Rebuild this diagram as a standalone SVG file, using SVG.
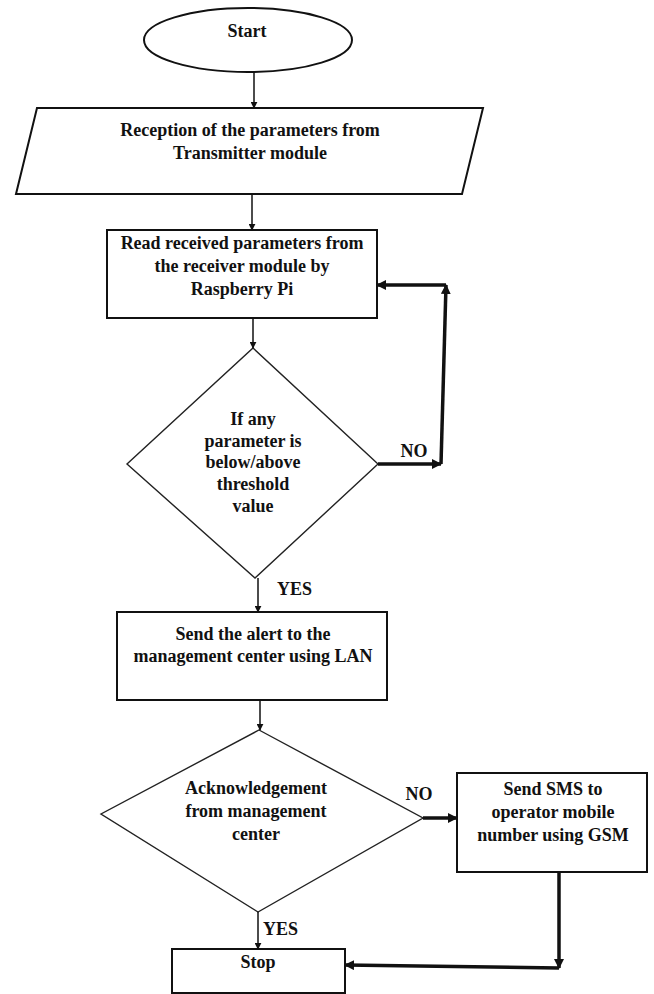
<svg xmlns="http://www.w3.org/2000/svg" width="654" height="994" viewBox="0 0 654 994">
<defs>
<style>
text{font-family:"Liberation Serif","Times New Roman",serif;font-weight:bold;font-size:18px;fill:#111;text-anchor:middle}
.lbl{text-anchor:start}
.shape{fill:#fff;stroke:#111;stroke-width:2}
.dia{fill:#fff;stroke:#222;stroke-width:1.4}
.thin{stroke:#111;stroke-width:1.5;fill:none}
.thick{stroke:#111;stroke-width:3.5;fill:none}
</style>
<marker id="ah" viewBox="0 0 10 10" refX="9" refY="5" markerWidth="7" markerHeight="7" markerUnits="userSpaceOnUse" orient="auto">
<path d="M0,0 L10,5 L0,10 z" fill="#111"/>
</marker>
<marker id="ahb" viewBox="0 0 10 10" refX="9" refY="5" markerWidth="10" markerHeight="10" markerUnits="userSpaceOnUse" orient="auto">
<path d="M0,0 L10,5 L0,10 z" fill="#111"/>
</marker>
</defs>
<rect width="654" height="994" fill="#fff"/>

<g id="start">
<ellipse class="shape" cx="248" cy="40" rx="104" ry="32" stroke-width="1.6"/>
<text x="247" y="37">Start</text>
</g>

<g id="reception">
<polygon class="shape" points="37,108 483,108 462,194 16,194"/>
<text x="250" y="136">Reception of the parameters from</text>
<text x="250" y="159">Transmitter module</text>
</g>

<g id="read">
<rect class="shape" x="107" y="230" width="270" height="88"/>
<text x="242" y="249">Read received parameters from</text>
<text x="242" y="272">the receiver module by</text>
<text x="242" y="295">Raspberry Pi</text>
</g>

<g id="threshold">
<polygon class="dia" points="253,348 378,464 255,578 127,464"/>
<text x="253" y="425">If any</text>
<text x="253" y="447">parameter is</text>
<text x="253" y="468">below/above</text>
<text x="253" y="490">threshold</text>
<text x="253" y="512">value</text>
</g>

<g id="alert">
<rect class="shape" x="117" y="612" width="270" height="88"/>
<text x="253" y="640">Send the alert to the</text>
<text x="253" y="662">management center using LAN</text>
</g>

<g id="ack">
<polygon class="dia" points="259,730 423,818 258,912 101,814"/>
<text x="256" y="794">Acknowledgement</text>
<text x="256" y="817">from management</text>
<text x="256" y="840">center</text>
</g>

<g id="sms">
<rect class="shape" x="457" y="773" width="190" height="99"/>
<text x="553" y="795">Send SMS to</text>
<text x="553" y="818">operator mobile</text>
<text x="553" y="841">number using GSM</text>
</g>

<g id="stop">
<rect class="shape" x="172" y="949" width="173" height="44"/>
<text x="258" y="968">Stop</text>
</g>

<g id="connectors">
<line class="thin" x1="254" y1="72" x2="254" y2="108" marker-end="url(#ah)"/>
<line class="thin" x1="252" y1="194" x2="252" y2="230" marker-end="url(#ah)" stroke-width="2"/>
<line class="thin" x1="253" y1="318" x2="253" y2="348" marker-end="url(#ah)"/>
<line class="thick" x1="378" y1="464" x2="441" y2="464" marker-end="url(#ahb)"/>
<line class="thick" x1="441" y1="464" x2="446" y2="285" marker-end="url(#ahb)"/>
<line class="thick" x1="446" y1="285" x2="377" y2="285" marker-end="url(#ahb)"/>
<line class="thin" x1="258" y1="578" x2="258" y2="612" marker-end="url(#ah)"/>
<line class="thin" x1="260" y1="700" x2="260" y2="730" marker-end="url(#ah)" stroke-width="2.2"/>
<line class="thick" x1="423" y1="818" x2="457" y2="818" marker-end="url(#ahb)"/>
<line class="thick" x1="559" y1="872" x2="559" y2="968" marker-end="url(#ahb)"/>
<line class="thick" x1="559" y1="968" x2="345" y2="965" marker-end="url(#ahb)"/>
<line class="thin" x1="258" y1="912" x2="258" y2="949" marker-end="url(#ah)"/>
<text x="414" y="457">NO</text>
<text class="lbl" x="277" y="595">YES</text>
<text x="419" y="800">NO</text>
<text class="lbl" x="263" y="935">YES</text>
</g>
</svg>
